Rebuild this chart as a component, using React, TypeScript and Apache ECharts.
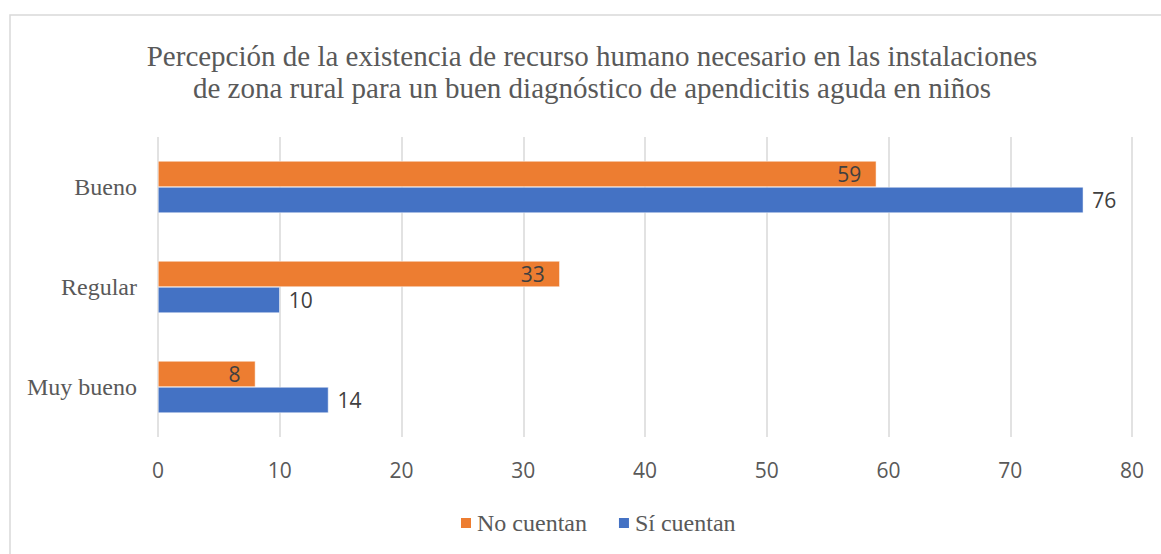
import React, { useEffect, useRef } from "react";
import * as echarts from "echarts";

const titleLines = [
  "Percepción de la existencia de recurso humano necesario en las instalaciones",
  "de zona rural para un buen diagnóstico de apendicitis aguda en niños",
];
const categories = ["Bueno", "Regular", "Muy bueno"];
const noCuentan = [59, 33, 8];
const siCuentan = [76, 10, 14];
const seriesNames = ["No cuentan", "Sí cuentan"];

export default function App() {
  const ref = useRef<HTMLDivElement>(null);
  useEffect(() => {
    if (!ref.current) return;
    const chart = echarts.init(ref.current, undefined, { renderer: "svg" });
    const serif = "'Liberation Serif', 'Times New Roman', serif";
    const sans = "'Open Sans', 'Noto Sans', sans-serif";
    chart.setOption({
      animation: false,
      backgroundColor: "#ffffff",
      graphic: [
        {
          type: "rect",
          shape: { x: 10, y: 15, width: 1170, height: 560 },
          style: { fill: "none", stroke: "#D9D9D9", lineWidth: 1.5 },
          silent: true,
          z: -1,
        },
        {
          type: "text",
          x: 592,
          y: 40,
          silent: true,
          style: {
            text: titleLines.join("\n"),
            textAlign: "center",
            textVerticalAlign: "top",
            font: `29px ${serif}`,
            fontFamily: serif,
            fontSize: 29,
            lineHeight: 32,
            fill: "#595959",
          },
        },
      ],
      legend: {
        data: seriesNames,
        left: 454,
        top: 506,
        itemWidth: 12,
        itemHeight: 12,
        itemGap: 30,
        icon: "rect",
        textStyle: { fontFamily: serif, fontSize: 24, color: "#595959" },
      },
      grid: { left: 158, right: 29, top: 137, bottom: 117, containLabel: false },
      xAxis: {
        type: "value",
        min: 0,
        max: 80,
        interval: 10,
        axisLine: { show: false },
        axisTick: { show: false },
        splitLine: { lineStyle: { color: "#D9D9D9", width: 1.5 } },
        axisLabel: { fontFamily: sans, fontSize: 21, color: "#595959", margin: 22 },
      },
      yAxis: {
        type: "category",
        inverse: true,
        data: categories,
        axisLine: { show: false },
        axisTick: { show: false },
        axisLabel: { fontFamily: serif, fontSize: 24, color: "#595959", margin: 21 },
      },
      series: [
        {
          name: seriesNames[0],
          type: "bar",
          data: noCuentan,
          barWidth: 26,
          barGap: "0%",
          itemStyle: { color: "#ED7D31", borderColor: "#ffffff", borderWidth: 0.5 },
          label: {
            show: true,
            position: "insideRight",
            distance: 15,
            fontFamily: sans,
            fontSize: 21,
            color: "#404040",
          },
        },
        {
          name: seriesNames[1],
          type: "bar",
          data: siCuentan,
          barWidth: 26,
          barGap: "0%",
          itemStyle: { color: "#4472C4", borderColor: "#ffffff", borderWidth: 0.5 },
          label: {
            show: true,
            position: "right",
            distance: 9,
            fontFamily: sans,
            fontSize: 21,
            color: "#404040",
          },
        },
      ],
    });
    return () => chart.dispose();
  }, []);
  return (
    <div
      ref={ref}
      style={{ position: "fixed", left: 0, top: 0, width: 1161, height: 554 }}
    />
  );
}
